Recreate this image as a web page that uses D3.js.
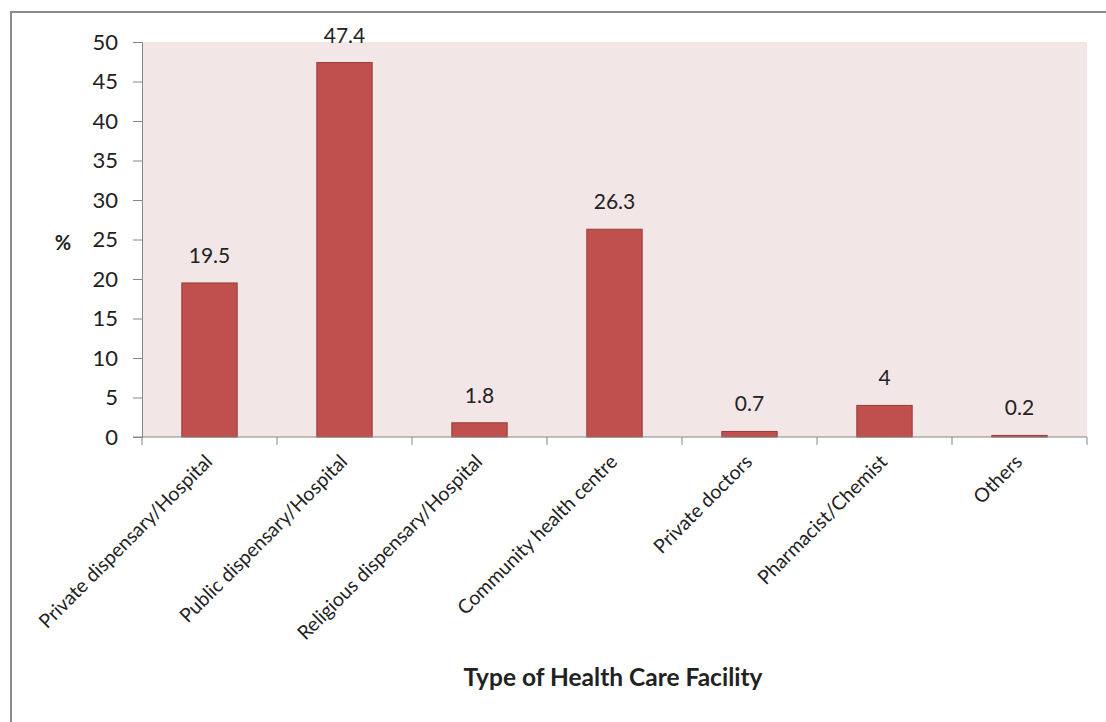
<!DOCTYPE html>
<html>
<head>
<meta charset="utf-8">
<script src="https://d3js.org/d3.v7.min.js"></script>
<style>
  body { margin: 0; background: #fff; }
  svg { font-family: Lato, "Open Sans", sans-serif; }
</style>
</head>
<body>
<svg width="1106" height="722"></svg>
<script>
// categories and values
var categories = ["Private dispensary/Hospital", "Public dispensary/Hospital", "Religious dispensary/Hospital",
                  "Community health centre", "Private doctors", "Pharmacist/Chemist", "Others"];
var values = [19.5, 47.4, 1.8, 26.3, 0.7, 4, 0.2];
var yTicks = [0, 5, 10, 15, 20, 25, 30, 35, 40, 45, 50];

var data = categories.map(function(c, i) { return { name: c, value: values[i] }; });

var svg = d3.select("svg");

// outer chart border
svg.append("rect")
    .attr("x", 11).attr("y", 12)
    .attr("width", 1120).attr("height", 760)
    .attr("fill", "none")
    .attr("stroke", "#8c8c8c")
    .attr("stroke-width", 2);

var plotLeft = 142, plotRight = 1087, plotTop = 42, plotBottom = 437;

var xScale = d3.scaleBand()
    .domain(categories)
    .range([plotLeft, plotRight])
    .paddingInner(0.59)
    .paddingOuter(0.295);

var xTickScale = d3.scaleLinear()
    .domain([0, categories.length])
    .range([plotLeft, plotRight]);

var yScale = d3.scaleLinear()
    .domain([0, 50])
    .range([plotBottom, plotTop]);

// plot background
svg.append("rect")
    .attr("x", plotLeft).attr("y", plotTop)
    .attr("width", plotRight - plotLeft).attr("height", plotBottom - plotTop)
    .attr("fill", "#f2e6e6");

// bars
svg.selectAll(".bar")
    .data(data)
    .enter().append("rect")
    .attr("class", "bar")
    .attr("x", function(d) { return xScale(d.name); })
    .attr("y", function(d) { return yScale(d.value); })
    .attr("width", xScale.bandwidth())
    .attr("height", function(d) { return plotBottom - yScale(d.value); })
    .attr("fill", "#c0504d")
    .attr("stroke", "#9b3b38")
    .attr("stroke-width", 1);

// value labels
svg.selectAll(".vlabel")
    .data(data)
    .enter().append("text")
    .attr("class", "vlabel")
    .attr("x", function(d) { return xScale(d.name) + xScale.bandwidth() / 2; })
    .attr("y", function(d) { return yScale(d.value) - 20; })
    .attr("text-anchor", "middle")
    .attr("font-size", 21)
    .attr("fill", "#222")
    .text(function(d) { return d.value; });

// y axis
var yAxis = d3.axisLeft(yScale).tickValues(yTicks).tickSize(9).tickPadding(15);
var gy = svg.append("g").attr("transform", "translate(" + plotLeft + ",0)").call(yAxis);
gy.select(".domain").attr("stroke", "#868686");
gy.selectAll(".tick line").attr("stroke", "#868686");
gy.selectAll(".tick text").attr("font-size", 22).attr("fill", "#222").attr("font-family", "Lato, sans-serif");

// x axis line and ticks
var gx = svg.append("g");
gx.append("line")
    .attr("x1", plotLeft - 9).attr("x2", plotRight)
    .attr("y1", plotBottom).attr("y2", plotBottom)
    .attr("stroke", "#868686");
gx.selectAll(".xt")
    .data(d3.range(categories.length + 1))
    .enter().append("line")
    .attr("x1", function(i) { return xTickScale(i); })
    .attr("x2", function(i) { return xTickScale(i); })
    .attr("y1", plotBottom).attr("y2", plotBottom + 8)
    .attr("stroke", "#868686");

// category labels rotated
svg.selectAll(".xlabel")
    .data(categories)
    .enter().append("text")
    .attr("class", "xlabel")
    .attr("transform", function(d) {
        var cx = xScale(d) + xScale.bandwidth() / 2 + 4;
        return "translate(" + cx + "," + (plotBottom + 26) + ") rotate(-45)";
    })
    .attr("text-anchor", "end")
    .attr("font-size", 19.5)
    .attr("fill", "#222")
    .text(function(d) { return d; });

// axis titles
svg.append("text")
    .attr("x", 63).attr("y", 250)
    .attr("text-anchor", "middle")
    .attr("font-size", 20)
    .attr("font-weight", "bold")
    .attr("fill", "#222")
    .text("%");

svg.append("text")
    .attr("x", 613).attr("y", 686)
    .attr("text-anchor", "middle")
    .attr("font-size", 24.5)
    .attr("font-weight", "bold")
    .attr("fill", "#222")
    .text("Type of Health Care Facility");
</script>
</body>
</html>
